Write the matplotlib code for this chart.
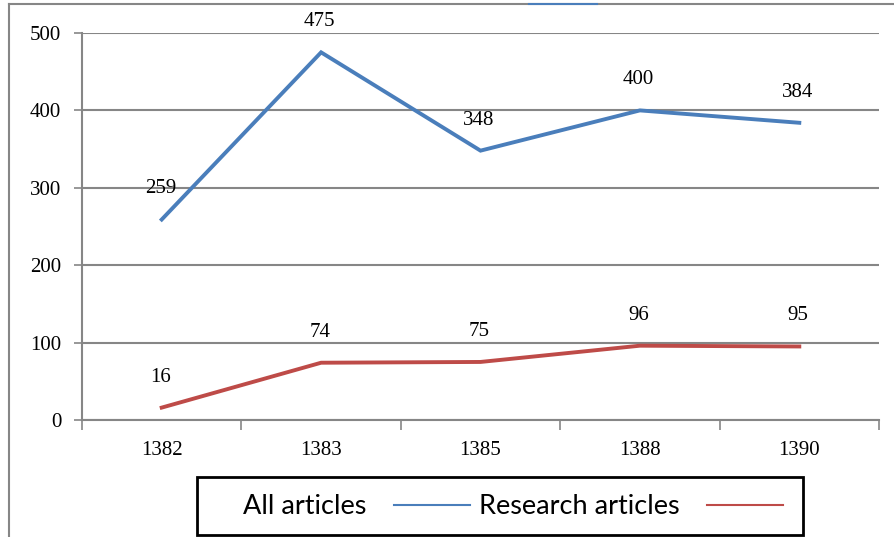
"""
Line chart: all articles vs research articles per year
"""

import matplotlib.pyplot as plt
from matplotlib.lines import Line2D
from matplotlib.patches import Rectangle
from matplotlib.ticker import FixedLocator

YEARS = ['1382', '1383', '1385', '1388', '1390']
ALL_ARTICLES = [259, 475, 348, 400, 384]
RESEARCH_ARTICLES = [16, 74, 75, 96, 95]

BLUE = '#4a7ebb'
RED = '#be4b48'
GRID = '#868686'


def main():
    fig = plt.figure(figsize=(8.94, 5.37), dpi=100)
    ax = fig.add_axes([82 / 894, 1 - 420 / 537, 797 / 894, 387 / 537])

    x = list(range(len(YEARS)))
    ax.plot(x, ALL_ARTICLES, color=BLUE, lw=2.8, solid_joinstyle='miter')
    ax.plot(x, RESEARCH_ARTICLES, color=RED, lw=2.8, solid_joinstyle='miter')

    # data labels above each point
    for series in (ALL_ARTICLES, RESEARCH_ARTICLES):
        for xi, v in zip(x, series):
            ax.annotate(str(v), (xi, v), xytext=(-1, 22), textcoords='offset points',
                        ha='center', va='center', family='Liberation Serif', fontsize=15)

    ax.set_xlim(-0.5, len(YEARS) - 0.5)
    ax.set_ylim(0, 500)
    ax.set_yticks(range(0, 501, 100))
    ax.yaxis.grid(True, color=GRID, lw=1.5)
    ax.set_axisbelow(True)

    # x ticks at category boundaries, labels centered between
    ax.xaxis.set_major_locator(FixedLocator([i - 0.5 for i in range(len(YEARS) + 1)]))
    ax.set_xticklabels([])
    ax.xaxis.set_minor_locator(FixedLocator(x))
    ax.set_xticklabels(YEARS, minor=True)
    ax.tick_params(axis='x', which='major', direction='out', length=7, color=GRID, width=1.2)
    ax.tick_params(axis='x', which='minor', length=0, pad=15)
    ax.tick_params(axis='y', direction='out', length=6, color=GRID, width=1.2, pad=9)
    for lab in ax.get_xticklabels(minor=True) + ax.get_yticklabels():
        lab.set_family('Liberation Serif')
        lab.set_fontsize(15)

    for side in ('top', 'right'):
        ax.spines[side].set_visible(False)
    for side in ('left', 'bottom'):
        ax.spines[side].set_color(GRID)
        ax.spines[side].set_linewidth(1.5)

    # legend: box drawn separately, it is wider than its content
    fig.add_artist(Rectangle((197 / 894, 1 - 535 / 537), 606 / 894, 58 / 537,
                             transform=fig.transFigure, fill=False,
                             edgecolor='black', lw=2))
    handles = [Line2D([], [], color=BLUE, lw=1.5), Line2D([], [], color=RED, lw=1.5)]
    fig.legend(handles, ['All articles', 'Research articles'], ncol=2,
               markerfirst=False, loc='center',
               bbox_to_anchor=(513 / 894, 1 - 507 / 537),
               prop={'family': 'Lato', 'size': 19.5}, frameon=False,
               handlelength=2.8, columnspacing=0.35, handletextpad=1.0,
               borderaxespad=0)

    # outer chart border
    fig.add_artist(Line2D([9 / 894, 9 / 894], [0, 1 - 4 / 537], color=GRID, lw=1.5))
    fig.add_artist(Line2D([9 / 894, 1], [1 - 4 / 537, 1 - 4 / 537], color=GRID, lw=1.5))
    fig.add_artist(Line2D([529 / 894, 597 / 894], [1 - 4 / 537, 1 - 4 / 537], color=BLUE, lw=1.5))

    fig.savefig('out.png', dpi=100)


if __name__ == '__main__':
    main()
